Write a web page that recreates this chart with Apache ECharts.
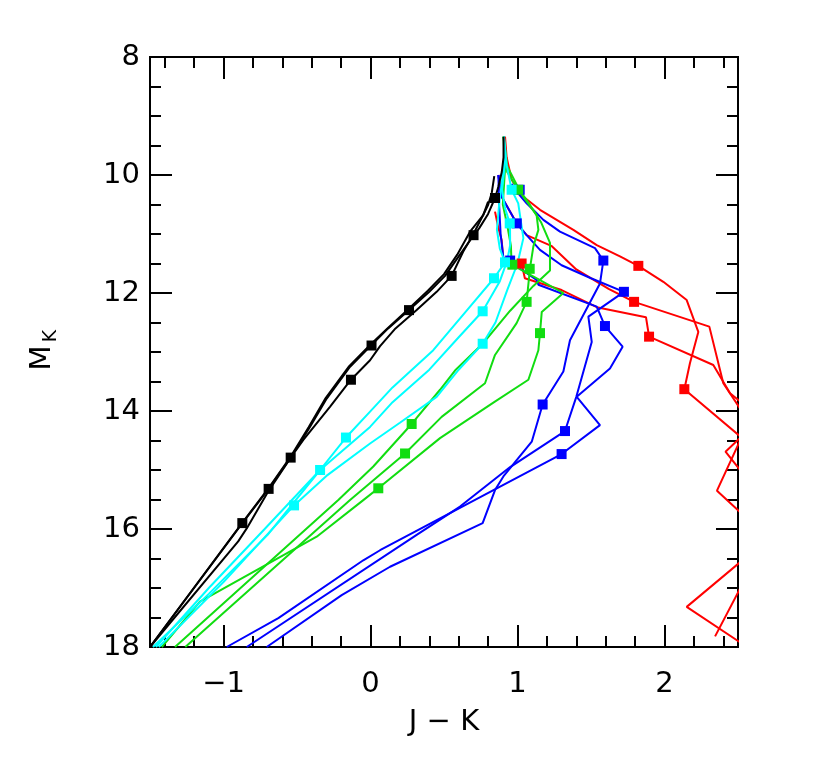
<!DOCTYPE html>
<html>
<head>
<meta charset="utf-8">
<script src="https://cdn.jsdelivr.net/npm/echarts@6/dist/echarts.min.js"></script>
<style>
  html, body { margin: 0; padding: 0; background: #fff; }
  #chart { width: 830px; height: 763px; }
</style>
</head>
<body>
<div id="chart"></div>
<script>
// tick labels
const xTickLabels = [-1, 0, 1, 2]
const yTickLabels = [8, 10, 12, 14, 16, 18]

// black tracks
const blackA = [[0.905,9.35],[0.905,9.7],[0.893,9.95],[0.87,10.2],[0.847,10.39],[0.80,10.66],[0.74,10.9],[0.70,11.03],[0.60,11.38],[0.507,11.71],[0.40,11.98],[0.262,12.29],[0.12,12.6],[0.003,12.89],[-0.139,13.25],[-0.298,13.79],[-0.412,14.27],[-0.543,14.79],[-0.693,15.32],[-0.872,15.90],[-1.5,18]]
const blackB = [[0.842,10.02],[0.825,10.3],[0.80,10.51],[0.756,10.73],[0.70,11.0],[0.63,11.3],[0.552,11.71],[0.45,11.98],[0.314,12.29],[0.17,12.6],[0.065,12.90],[-0.003,13.14],[-0.133,13.47],[-0.276,13.93],[-0.457,14.49],[-0.543,14.79],[-0.70,15.38],[-0.842,15.99],[-0.90,16.21],[-1.5,18]]
const blackC = [[0.80,10.45],[0.767,10.68],[0.677,10.96],[0.59,11.35],[0.50,11.68],[0.39,11.96],[0.255,12.28],[0.115,12.6],[-0.003,12.88],[-0.145,13.24],[-0.305,13.78],[-0.42,14.27],[-0.55,14.8],[-0.70,15.33],[-0.88,15.92],[-1.5,18]]
const blackSquares = [[0.847,10.39],[0.701,11.02],[0.552,11.71],[0.262,12.29],[0.007,12.89],[-0.133,13.47],[-0.543,14.79],[-0.693,15.32],[-0.872,15.90]]

// cyan tracks
const cyanA = [[0.908,9.35],[0.91,9.75],[0.895,10.1],[0.875,10.5],[0.86,10.93],[0.88,11.25],[0.915,11.48],[0.84,11.75],[0.677,12.23],[0.427,12.97],[0.15,13.6],[-0.003,14.01],[-0.167,14.45],[-0.343,15.0],[-0.70,16.1],[-1.1,17.1],[-1.48,18]]
const cyanB = [[0.908,9.35],[0.915,9.8],[0.895,10.25],[0.915,10.56],[0.949,10.83],[0.95,11.19],[0.93,11.45],[0.88,11.8],[0.763,12.31],[0.60,12.75],[0.40,13.3],[0.15,13.85],[-0.003,14.27],[-0.343,15.0],[-0.72,16.0],[-1.1,17.0],[-1.46,18]]
const cyanC = [[0.908,9.35],[0.926,9.83],[0.960,10.25],[1.005,10.48],[1.04,11.07],[1.0,11.5],[0.93,11.95],[0.85,12.5],[0.763,12.86],[0.60,13.3],[0.45,13.76],[0.20,14.2],[-0.003,14.55],[-0.30,15.1],[-0.520,15.6],[-1.0,16.9],[-1.44,18]]
const cyanSquares = [[0.960,10.25],[0.947,10.82],[0.915,11.48],[0.840,11.75],[0.763,12.31],[0.763,12.86],[-0.167,14.45],[-0.343,15.0],[-0.520,15.6]]

// green tracks
const greenA = [[0.905,9.35],[0.915,9.9],[0.90,10.5],[0.93,10.85],[0.955,11.2],[0.96,11.52],[1.153,11.78],[1.312,12.0],[1.165,12.32],[1.153,12.68],[1.142,12.97],[1.074,13.47],[0.841,13.85],[0.473,14.46],[0.053,15.31],[-0.049,15.51],[-0.366,16.13],[-1.16,17.23],[-1.42,18]]
const greenB = [[0.905,9.35],[0.93,9.95],[1.005,10.25],[1.13,10.68],[1.142,10.93],[1.108,11.21],[1.085,11.58],[1.062,12.15],[0.994,12.51],[0.847,13.05],[0.779,13.53],[0.484,14.10],[0.235,14.72],[-0.139,15.51],[-1.26,18]]
const greenC = [[0.905,9.35],[0.93,9.85],[1.012,10.25],[1.07,10.45],[1.16,10.8],[1.221,11.15],[1.221,11.62],[1.108,11.88],[0.95,12.3],[0.85,12.6],[0.763,12.86],[0.58,13.3],[0.473,13.64],[0.28,14.22],[0.019,14.94],[-0.219,15.51],[-1.33,18]]
const greenSquares = [[1.005,10.25],[0.965,11.52],[1.083,11.59],[1.062,12.15],[1.153,12.68],[0.28,14.22],[0.235,14.72],[0.053,15.31]]

// blue tracks
const blueA = [[0.96,10.15],[1.0,10.3],[1.062,10.48],[1.176,10.76],[1.289,10.96],[1.527,11.24],[1.584,11.45],[1.561,11.84],[1.357,12.80],[1.312,13.33],[1.171,13.89],[1.097,14.52],[0.904,15.11],[0.847,15.34],[0.763,15.90],[0.133,16.64],[-0.196,17.12],[-0.706,18]]
const blueB = [[0.87,10.0],[0.892,10.37],[0.995,10.82],[1.062,11.02],[1.153,11.27],[1.30,11.53],[1.50,11.75],[1.724,11.98],[1.482,12.40],[1.505,12.83],[1.40,13.76],[1.323,14.34],[0.95,14.95],[0.609,15.62],[0.314,16.10],[-0.842,18]]
const blueC = [[0.87,10.0],[0.875,10.5],[0.885,11.0],[0.904,11.4],[0.95,11.47],[1.13,11.78],[1.142,11.86],[1.539,12.23],[1.595,12.56],[1.715,12.91],[1.629,13.28],[1.403,13.76],[1.561,14.24],[1.30,14.73],[0.859,15.31],[0.065,16.36],[-0.049,16.53],[-0.627,17.51],[-0.978,18]]
const blueSquares = [[1.015,10.25],[0.995,10.82],[0.95,11.45],[1.584,11.45],[1.724,11.98],[1.595,12.56],[1.171,13.89],[1.323,14.34],[1.30,14.73]]

// red tracks (run past the right edge, clipped by the grid)
const redA = [[0.915,9.35],[0.926,9.7],[0.96,10.08],[1.04,10.37],[1.153,10.59],[1.38,10.93],[1.539,11.19],[1.697,11.38],[1.822,11.54],[1.992,11.81],[2.151,12.12],[2.23,12.66],[2.173,13.19],[2.135,13.63],[2.52,14.44],[2.415,14.69],[2.53,15.05],[2.7,16.0],[2.52,16.98],[2.344,17.82]]
const redB = [[0.87,10.0],[0.892,10.37],[0.995,10.82],[1.062,11.02],[1.23,11.2],[1.40,11.6],[1.62,11.93],[1.793,12.15],[2.305,12.57],[2.40,13.53],[2.52,13.98],[2.6,14.3],[2.52,14.47],[2.357,15.35],[2.53,15.75]]
const redC = [[0.847,10.62],[0.87,10.9],[0.892,11.1],[0.904,11.44],[1.028,11.50],[1.05,11.75],[1.30,11.95],[1.539,12.24],[1.874,12.41],[1.895,12.74],[2.332,13.22],[2.446,13.70],[2.52,13.85],[2.7,15.5],[2.52,16.55],[2.151,17.32],[2.52,17.93]]
const redSquares = [[1.028,11.50],[1.822,11.54],[1.793,12.15],[1.895,12.74],[2.135,13.63]]

const FONT = "DejaVu Sans"
const BLACK = "#000"
const CYAN = "#00ffff"
const GREEN = "#11dd11"
const BLUE = "#0000ff"
const RED = "#ff0000"

// minor tick positions
const minorX = []
for (let i = -7; i <= 12; i++) {
  const v = Math.round(i * 0.2 * 10) / 10
  if (!Number.isInteger(v)) minorX.push(v)
}
const minorY = []
for (let v = 8.5; v < 18; v += 0.5) {
  if (v % 2 !== 0) minorY.push(v)
}

const minus = (v) => (v < 0 ? "\u2212" + Math.abs(v) : String(v))

// one axis per tick set, stacked on the same edge
const makeX = (position, ticks, len, withLabels) => ({
  type: "value",
  position,
  min: -1.5,
  max: 2.5,
  axisLine: { show: true, onZero: false, lineStyle: { color: BLACK, width: 2 } },
  axisTick: { show: true, inside: true, length: len, customValues: ticks, lineStyle: { color: BLACK, width: 2 } },
  axisLabel: withLabels
    ? { show: true, customValues: xTickLabels, formatter: minus, margin: 23, color: BLACK, fontSize: 29, fontFamily: FONT }
    : { show: false },
  splitLine: { show: false },
})
const makeY = (position, ticks, len, withLabels) => ({
  type: "value",
  position,
  inverse: true,
  min: 8,
  max: 18,
  axisLine: { show: true, onZero: false, lineStyle: { color: BLACK, width: 2 } },
  axisTick: { show: true, inside: true, length: len, customValues: ticks, lineStyle: { color: BLACK, width: 2 } },
  axisLabel: withLabels
    ? { show: true, customValues: yTickLabels, margin: 10, color: BLACK, fontSize: 29, fontFamily: FONT }
    : { show: false },
  splitLine: { show: false },
})

const line = (data, color) => ({
  type: "line",
  data,
  symbol: "none",
  silent: true,
  clip: true,
  lineStyle: { color, width: 2 },
  z: 2,
})
const squares = (data, color) => ({
  type: "scatter",
  data,
  symbol: "rect",
  symbolSize: 10,
  silent: true,
  clip: true,
  itemStyle: { color, opacity: 1 },
  z: 3,
})

const option = {
  animation: false,
  backgroundColor: "#fff",
  grid: { left: 150, top: 57, width: 588, height: 590 },
  xAxis: [
    makeX("bottom", xTickLabels, 22, true),
    makeX("bottom", minorX, 11, false),
    makeX("top", xTickLabels, 22, false),
    makeX("top", minorX, 11, false),
  ],
  yAxis: [
    makeY("left", yTickLabels, 22, true),
    makeY("left", minorY, 11, false),
    makeY("right", yTickLabels, 22, false),
    makeY("right", minorY, 11, false),
  ],
  graphic: [
    {
      type: "text",
      x: 444,
      y: 722,
      style: { text: "J \u2212 K", fill: BLACK, font: "29px " + FONT, align: "center", verticalAlign: "middle" },
    },
    {
      type: "text",
      x: 42,
      y: 358,
      rotation: Math.PI / 2,
      style: { text: "M", fill: BLACK, font: "29px " + FONT, align: "center", verticalAlign: "middle" },
    },
    {
      type: "text",
      x: 51,
      y: 336,
      rotation: Math.PI / 2,
      style: { text: "K", fill: BLACK, font: "19px " + FONT, align: "center", verticalAlign: "middle" },
    },
  ],
  series: [
    line(redA, RED), line(redB, RED), line(redC, RED),
    line(blueA, BLUE), line(blueB, BLUE), line(blueC, BLUE),
    line(greenA, GREEN), line(greenB, GREEN), line(greenC, GREEN),
    line(cyanA, CYAN), line(cyanB, CYAN), line(cyanC, CYAN),
    line(blackA, BLACK), line(blackB, BLACK), line(blackC, BLACK),
    squares(redSquares, RED),
    squares(blueSquares, BLUE),
    squares(greenSquares, GREEN),
    squares(cyanSquares, CYAN),
    squares(blackSquares, BLACK),
  ],
}

const myChart = echarts.init(document.getElementById("chart"))
myChart.setOption(option)
</script>
</body>
</html>
